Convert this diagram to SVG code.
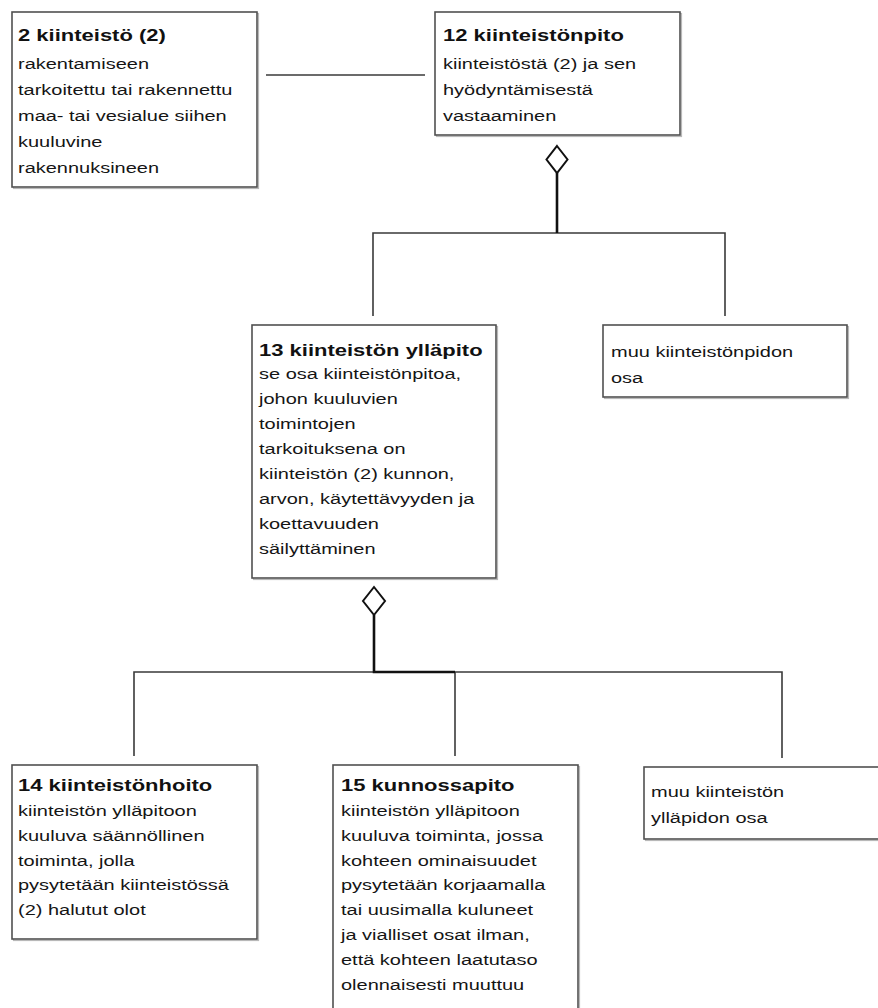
<svg xmlns="http://www.w3.org/2000/svg" width="878" height="1008" viewBox="0 0 878 1008">
<defs>
<style>
.box{fill:#ffffff;stroke:#505050;stroke-width:1.6}
.shadow{fill:none;stroke:#b8b8b8;stroke-width:1.2}
.t{font-family:"Liberation Sans",Arial,sans-serif;font-size:15px;fill:#151515}
.h{font-family:"Liberation Sans",Arial,sans-serif;font-size:16.5px;font-weight:bold;fill:#111111}
.ln{fill:none;stroke:#3a3a3a;stroke-width:1.6}
.stem{fill:none;stroke:#111111;stroke-width:2.6}
.dia{fill:#ffffff;stroke:#111111;stroke-width:2}
</style>
</defs>
<rect x="0" y="0" width="878" height="1008" fill="#ffffff"/>

<g id="connectors">
<line class="ln" x1="266" y1="75" x2="425" y2="75"/>
<polyline class="ln" points="373,316 373,233 725,233 725,316"/>
<line class="stem" x1="557" y1="173" x2="557" y2="233"/>
<polygon class="dia" points="557,146 567.5,159.5 557,173 546.5,159.5"/>
<polyline class="ln" points="134,756 134,672 782,672 782,758"/>
<line class="ln" x1="455" y1="672" x2="455" y2="756"/>
<polyline class="stem" points="374,615 374,672 455,672"/>
<polygon class="dia" points="374,587 385,601 374,615 363,601"/>
</g>

<g id="node-2">
<rect class="shadow" x="13.5" y="13.5" width="245" height="175"/>
<rect class="box" x="12" y="12" width="245" height="175"/>
<g transform="translate(18 0) scale(1.333 1)">
<text class="h" x="0" y="41">2 kiinteistö (2)</text>
<text class="t" x="0" y="69">rakentamiseen</text>
<text class="t" x="0" y="95">tarkoitettu tai rakennettu</text>
<text class="t" x="0" y="121">maa- tai vesialue siihen</text>
<text class="t" x="0" y="147">kuuluvine</text>
<text class="t" x="0" y="173">rakennuksineen</text>
</g>
</g>

<g id="node-12">
<rect class="shadow" x="436.5" y="13.5" width="245" height="123"/>
<rect class="box" x="435" y="12" width="245" height="123"/>
<g transform="translate(443 0) scale(1.333 1)">
<text class="h" x="0" y="41">12 kiinteistönpito</text>
<text class="t" x="0" y="69">kiinteistöstä (2) ja sen</text>
<text class="t" x="0" y="95">hyödyntämisestä</text>
<text class="t" x="0" y="121">vastaaminen</text>
</g>
</g>

<g id="node-13">
<rect class="shadow" x="253.5" y="326.5" width="244" height="253"/>
<rect class="box" x="252" y="325" width="244" height="253"/>
<g transform="translate(259 0) scale(1.333 1)">
<text class="h" x="0" y="356">13 kiinteistön ylläpito</text>
<text class="t" x="0" y="379">se osa kiinteistönpitoa,</text>
<text class="t" x="0" y="404">johon kuuluvien</text>
<text class="t" x="0" y="429">toimintojen</text>
<text class="t" x="0" y="454">tarkoituksena on</text>
<text class="t" x="0" y="479">kiinteistön (2) kunnon,</text>
<text class="t" x="0" y="504">arvon, käytettävyyden ja</text>
<text class="t" x="0" y="529">koettavuuden</text>
<text class="t" x="0" y="554">säilyttäminen</text>
</g>
</g>

<g id="node-muu-kiinteistonpidon-osa">
<rect class="shadow" x="604.5" y="326.5" width="244" height="72"/>
<rect class="box" x="603" y="325" width="244" height="72"/>
<g transform="translate(611 0) scale(1.333 1)">
<text class="t" x="0" y="357">muu kiinteistönpidon</text>
<text class="t" x="0" y="383">osa</text>
</g>
</g>

<g id="node-14">
<rect class="shadow" x="13.5" y="766.5" width="245" height="174"/>
<rect class="box" x="12" y="765" width="245" height="174"/>
<g transform="translate(18 0) scale(1.333 1)">
<text class="h" x="0" y="791">14 kiinteistönhoito</text>
<text class="t" x="0" y="816">kiinteistön ylläpitoon</text>
<text class="t" x="0" y="841">kuuluva säännöllinen</text>
<text class="t" x="0" y="866">toiminta, jolla</text>
<text class="t" x="0" y="890">pysytetään kiinteistössä</text>
<text class="t" x="0" y="915">(2) halutut olot</text>
</g>
</g>

<g id="node-15">
<rect class="shadow" x="334.5" y="766.5" width="245" height="260"/>
<rect class="box" x="333" y="765" width="245" height="260"/>
<g transform="translate(341 0) scale(1.333 1)">
<text class="h" x="0" y="791">15 kunnossapito</text>
<text class="t" x="0" y="816">kiinteistön ylläpitoon</text>
<text class="t" x="0" y="841">kuuluva toiminta, jossa</text>
<text class="t" x="0" y="866">kohteen ominaisuudet</text>
<text class="t" x="0" y="890">pysytetään korjaamalla</text>
<text class="t" x="0" y="915">tai uusimalla kuluneet</text>
<text class="t" x="0" y="940">ja vialliset osat ilman,</text>
<text class="t" x="0" y="965">että kohteen laatutaso</text>
<text class="t" x="0" y="990">olennaisesti muuttuu</text>
</g>
</g>

<g id="node-muu-kiinteiston-yllapidon-osa">
<rect class="shadow" x="645.5" y="768.5" width="250" height="72"/>
<rect class="box" x="644" y="767" width="250" height="72"/>
<g transform="translate(651 0) scale(1.333 1)">
<text class="t" x="0" y="797">muu kiinteistön</text>
<text class="t" x="0" y="823">ylläpidon osa</text>
</g>
</g>
</svg>
